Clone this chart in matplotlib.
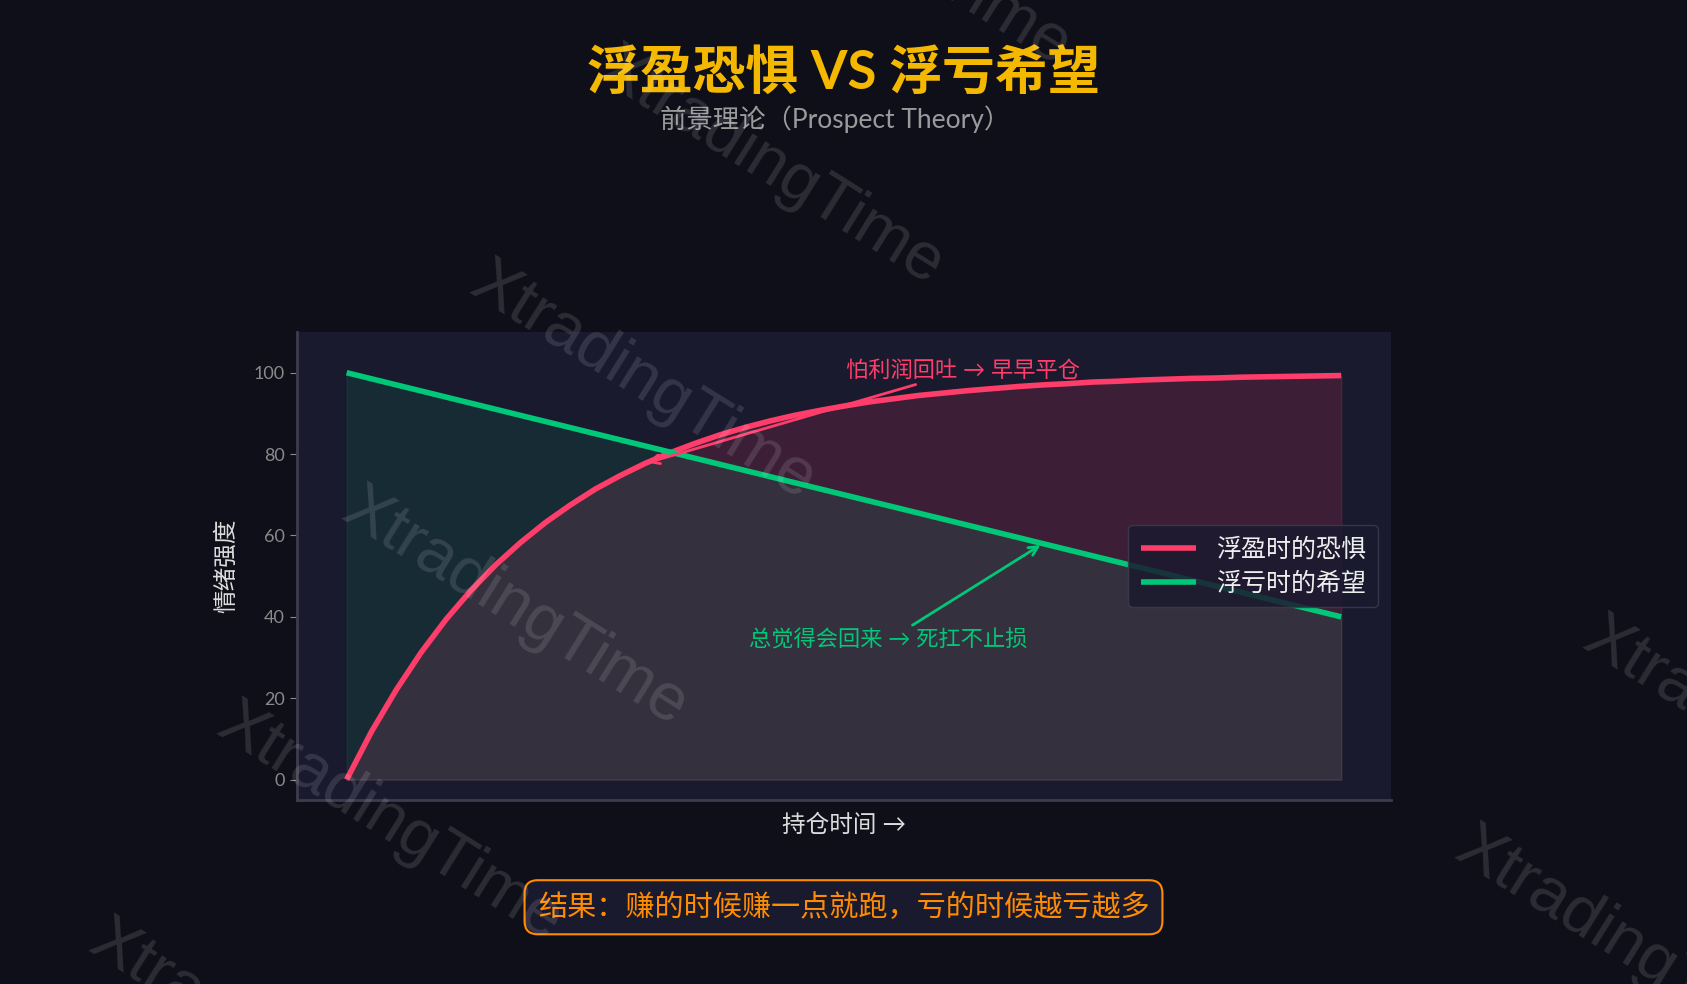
import numpy as np
import matplotlib
matplotlib.use('Agg')
from matplotlib import pyplot as plt

plt.rcParams['font.family'] = ['Lato', 'Noto Sans CJK SC', 'DejaVu Sans']
plt.rcParams['axes.unicode_minus'] = False

# 持仓时间 (x) 与情绪强度
hold_time = [0, 0.25, 0.5, 0.75, 1, 1.25, 1.5, 1.75, 2, 2.25, 2.5, 2.75, 3, 3.25,
             3.5, 3.75, 4, 4.25, 4.5, 4.75, 5, 5.25, 5.5, 5.75, 6, 6.25, 6.5, 6.75,
             7, 7.25, 7.5, 7.75, 8, 8.25, 8.5, 8.75, 9, 9.25, 9.5, 9.75, 10]
fear_gain = [0, 11.8, 22.1, 31.3, 39.4, 46.5, 52.8, 58.3, 63.2, 67.5, 71.4, 74.7,
             77.7, 80.3, 82.6, 84.7, 86.5, 88.1, 89.5, 90.7, 91.8, 92.8, 93.6, 94.4,
             95.0, 95.6, 96.1, 96.6, 97.0, 97.3, 97.7, 97.9, 98.2, 98.4, 98.6, 98.7,
             98.9, 99.0, 99.1, 99.2, 99.3]
hope_loss = [100, 98.5, 97, 95.5, 94, 92.5, 91, 89.5, 88, 86.5, 85, 83.5, 82, 80.5,
             79, 77.5, 76, 74.5, 73, 71.5, 70, 68.5, 67, 65.5, 64, 62.5, 61, 59.5,
             58, 56.5, 55, 53.5, 52, 50.5, 49, 47.5, 46, 44.5, 43, 41.5, 40]

fear_label = '浮盈时的恐惧'
hope_label = '浮亏时的希望'
y_ticks = [0, 20, 40, 60, 80, 100]

BG = '#0f0f1a'
PANEL = '#1a1a2e'
PINK = '#ff3d6b'
GREEN = '#00c878'
GOLD = '#f5b800'
ORANGE = '#ff8c00'

fig = plt.figure(figsize=(16.87, 9.84), dpi=100, facecolor=BG)
ax = fig.add_axes([0.176, 0.187, 0.6485, 0.4756], facecolor=PANEL)

x = np.array(hold_time)
ax.fill_between(x, fear_gain, 0, color=PINK, alpha=0.15)
ax.fill_between(x, hope_loss, 0, color=GREEN, alpha=0.1)
ax.plot(x, fear_gain, color=PINK, lw=4, label=fear_label, solid_capstyle='butt')
ax.plot(x, hope_loss, color=GREEN, lw=4, label=hope_label, solid_capstyle='butt')

ax.set_xlim(-0.5, 10.5)
ax.set_ylim(-5, 110)
ax.set_xticks([])
ax.set_yticks(y_ticks)
ax.tick_params(axis='y', colors='#8a8a8a', labelsize=13, length=5)
for s in ['top', 'right']:
    ax.spines[s].set_visible(False)
for s in ['left', 'bottom']:
    ax.spines[s].set_color('#3c3c4e')
    ax.spines[s].set_linewidth(2)

ax.set_ylabel('情绪强度', color='#dddddd', fontsize=17, labelpad=12)
ax.set_xlabel('持仓时间 →', color='#dddddd', fontsize=17, labelpad=10)

ax.annotate('怕利润回吐 → 早早平仓', xy=(3, fear_gain[12]), xytext=(6.2, 100.5),
            color=PINK, fontsize=16, ha='center', va='center',
            arrowprops=dict(arrowstyle='->', color=PINK, lw=2))
ax.annotate('总觉得会回来 → 死扛不止损', xy=(7, hope_loss[28]), xytext=(5.45, 34.3),
            color=GREEN, fontsize=16, ha='center', va='center',
            arrowprops=dict(arrowstyle='->', color=GREEN, lw=2))

leg = ax.legend(loc='center right', fontsize=18, facecolor=PANEL, edgecolor='#3c3c4e',
                framealpha=0.85, handlelength=2.2, borderpad=0.5, labelspacing=0.4)
for t in leg.get_texts():
    t.set_color('#eeeeee')

fig.text(0.5, 0.925, '浮盈恐惧 VS 浮亏希望', color=GOLD, fontsize=38, fontweight='bold',
         ha='center', va='center')
fig.text(0.495, 0.879, '前景理论（Prospect Theory）', color='#9a9a9a', fontsize=19,
         ha='center', va='center')

fig.text(0.5, 0.078, '结果：赚的时候赚一点就跑，亏的时候越亏越多', color=ORANGE, fontsize=21,
         ha='center', va='center',
         bbox=dict(boxstyle='round,pad=0.45', facecolor=PANEL, edgecolor=ORANGE, lw=1.5))

# 水印
wm_pos = [(0.532, 1.053), (0.457, 0.830), (0.381, 0.612), (0.305, 0.382),
          (0.231, 0.164), (0.155, -0.057), (1.041, 0.251), (0.965, 0.038)]
for px, py in wm_pos:
    fig.text(px, py, 'XtradingTime', color='white', alpha=0.12, fontsize=48,
             family='Liberation Sans', rotation=-32, rotation_mode='anchor',
             ha='center', va='center')

fig.savefig('out.png', dpi=100, facecolor=BG)
